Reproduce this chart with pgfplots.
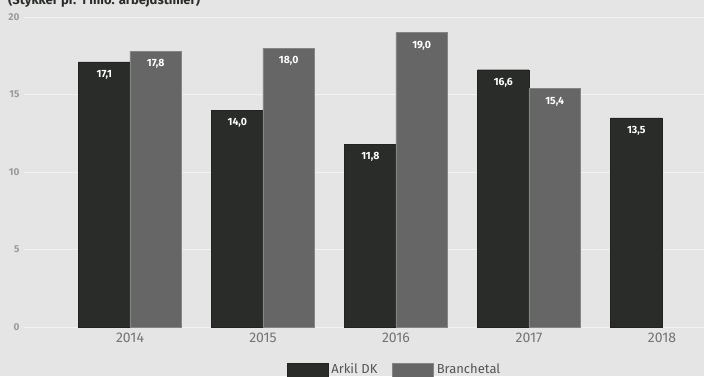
\documentclass[border=0pt]{standalone}
\usepackage{fontspec}
\setmainfont{Fira Sans}
\usepackage{pgfplots}
\pgfplotsset{compat=1.18}
\definecolor{bg}{HTML}{E5E5E5}
\definecolor{darkbar}{HTML}{2A2C29}
\definecolor{greybar}{HTML}{666666}
\definecolor{gridc}{HTML}{F2F2F2}
\definecolor{ticky}{HTML}{9A9A9A}
\definecolor{tickx}{HTML}{747474}
\definecolor{legtext}{HTML}{555555}
\begin{document}
\begin{tikzpicture}
\clip (0,0) rectangle (704pt,376pt);
\fill[bg] (0,0) rectangle (704pt,376pt);
\node[anchor=base west, font=\bfseries\fontsize{13}{15}\selectfont, text=darkbar, inner sep=0pt] at (8pt,371.5pt) {(Stykker pr. 1 mio. arbejdstimer)};
\begin{axis}[
  at={(24pt,49pt)}, anchor=south west,
  scale only axis, width=680pt, height=310pt,
  ybar=0pt, bar width=51.3pt,
  xmin=-0.797, xmax=4.316, ymin=0, ymax=20,
  xtick={0,1,2,3,4}, xticklabels={2014,2015,2016,2017,2018},
  ytick={0,5,10,15,20},
  axis line style={draw=none},
  major tick length=0pt,
  ymajorgrids, grid style={gridc, line width=1pt},
  x tick label style={font=\fontsize{14}{16}\selectfont, text=tickx, yshift=-2pt},
  y tick label style={font=\bfseries\fontsize{10}{12}\selectfont, text=ticky, xshift=-1pt},
  /pgf/number format/assume math mode=true,
  nodes near coords,
  nodes near coords style={anchor=north, yshift=-5pt, text=white, font=\bfseries\fontsize{10.5}{12}\selectfont,
    /pgf/number format/.cd, fixed, fixed zerofill, precision=1, use comma, assume math mode=true},
  legend style={at={(0.545,-0.105)}, anchor=north, draw=none, fill=none, legend columns=2,
    font=\fontsize{13}{15}\selectfont, text=legtext,
    /tikz/every odd column/.append style={column sep=1pt},
    /tikz/every even column/.append style={column sep=13pt}},
  legend image code/.code={\fill[#1] (0pt,-8pt) rectangle (41pt,6pt);},
]
\addplot[fill=darkbar, draw=darkbar!80!black] coordinates {(0,17.1) (1,14.0) (2,11.8) (3,16.6) (4,13.5)};
\addplot[fill=greybar, draw=greybar!80!white] coordinates {(0,17.8) (1,18.0) (2,19.0) (3,15.4)};
\legend{Arkil DK, Branchetal}
\end{axis}
\end{tikzpicture}
\end{document}
